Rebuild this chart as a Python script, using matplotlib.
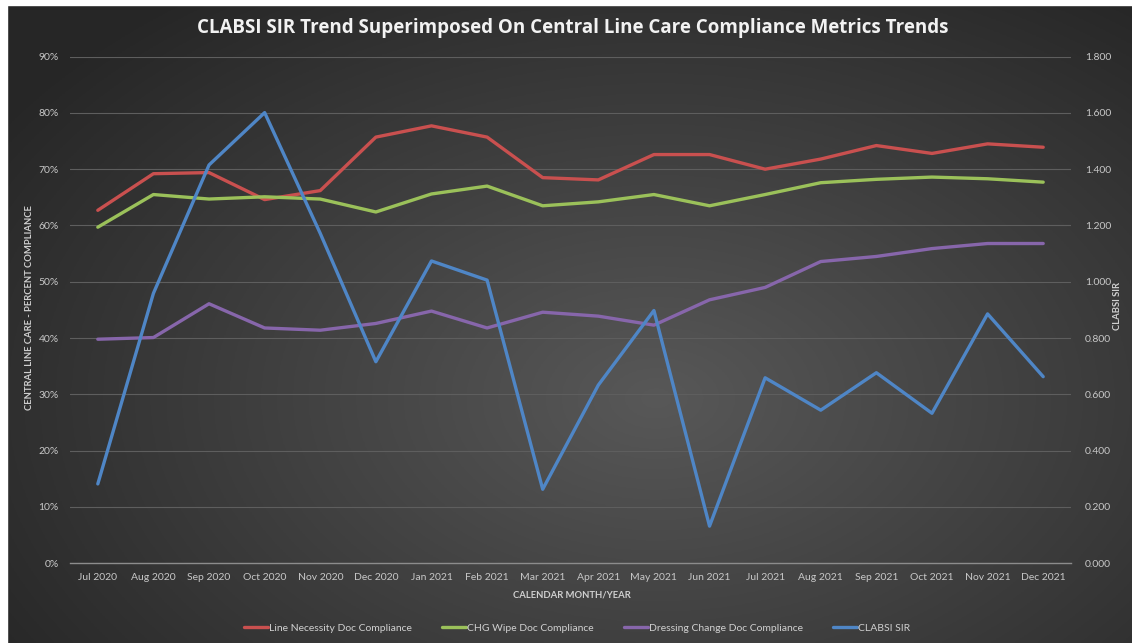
import numpy as np
import matplotlib
matplotlib.use("Agg")
import matplotlib.pyplot as plt
from matplotlib.patches import Rectangle

# Data
months = ["Jul 2020", "Aug 2020", "Sep 2020", "Oct 2020", "Nov 2020", "Dec 2020",
          "Jan 2021", "Feb 2021", "Mar 2021", "Apr 2021", "May 2021", "Jun 2021",
          "Jul 2021", "Aug 2021", "Sep 2021", "Oct 2021", "Nov 2021", "Dec 2021"]
line_necessity = [62.7, 69.2, 69.4, 64.6, 66.2, 75.7, 77.7, 75.7, 68.5, 68.1,
                  72.6, 72.6, 70.0, 71.8, 74.2, 72.8, 74.5, 73.9]
chg_wipe = [59.7, 65.5, 64.7, 65.1, 64.7, 62.4, 65.6, 67.0, 63.5, 64.2,
            65.5, 63.5, 65.5, 67.6, 68.2, 68.6, 68.3, 67.7]
dressing_change = [39.8, 40.1, 46.1, 41.8, 41.4, 42.6, 44.8, 41.8, 44.6, 43.9,
                   42.3, 46.8, 49.0, 53.6, 54.5, 55.9, 56.8, 56.8]
clabsi_sir = [0.282, 0.959, 1.415, 1.601, 1.172, 0.716, 1.074, 1.006, 0.263, 0.633,
              0.898, 0.132, 0.659, 0.544, 0.677, 0.533, 0.886, 0.663]
pct_ticks = [0, 10, 20, 30, 40, 50, 60, 70, 80, 90]
sir_ticks = [0.0, 0.2, 0.4, 0.6, 0.8, 1.0, 1.2, 1.4, 1.6, 1.8]

plt.rcParams['font.family'] = ['Lato', 'DejaVu Sans']

fig = plt.figure(figsize=(11.32, 6.43), dpi=100)

# dark radial gradient background
bg = fig.add_axes([0, 0, 1, 1])
gx, gy = np.meshgrid(np.linspace(0, 1, 400), np.linspace(0, 1, 240))
d = np.sqrt(((gx - 0.58) / 0.75) ** 2 + ((gy - 0.62) / 0.85) ** 2)
lum = np.clip(0.345 - 0.21 * d, 0.15, 0.35)
bg.imshow(np.dstack([lum, lum, lum]), extent=[0, 1, 0, 1], aspect='auto', origin='upper')
bg.set_xlim(0, 1)
bg.set_ylim(0, 1)
bg.axis('off')
# thin white border left / top like the screenshot
fig.patches.append(Rectangle((0, 0), 7 / 1132, 1, transform=fig.transFigure, color='white', zorder=10))
fig.patches.append(Rectangle((0, 1 - 5 / 643), 1, 5 / 643, transform=fig.transFigure, color='white', zorder=10))

ax = fig.add_axes([70 / 1132, 79.7 / 643, 1001 / 1132, 506.7 / 643])
ax.set_facecolor('none')
x = np.arange(len(months))

ax.plot(x, line_necessity, color='#c9504f', lw=2.4, label='Line Necessity Doc Compliance', solid_capstyle='round')
ax.plot(x, chg_wipe, color='#9bc15a', lw=2.4, label='CHG Wipe Doc Compliance', solid_capstyle='round')
ax.plot(x, dressing_change, color='#8766ab', lw=2.4, label='Dressing Change Doc Compliance', solid_capstyle='round')

ax.set_xlim(-0.5, len(months) - 0.5)
ax.set_ylim(0, 90)
ax.set_yticks(pct_ticks)
ax.set_yticklabels([f"{t}%" for t in pct_ticks])
ax.set_xticks(x)
ax.set_xticklabels(months)
ax.grid(axis='y', color='#5e5e5e', lw=0.8)
ax.set_axisbelow(True)
for s in ['top', 'right', 'left']:
    ax.spines[s].set_visible(False)
ax.spines['bottom'].set_color('#8c8c8c')
ax.spines['bottom'].set_linewidth(1.0)
ax.tick_params(axis='both', length=0, colors='#c8c8c8', labelsize=7.5)
ax.tick_params(axis='y', pad=8)
ax.tick_params(axis='x', pad=7)

ax2 = ax.twinx()
ax2.plot(x, clabsi_sir, color='#4f86c6', lw=2.4, label='CLABSI SIR', solid_capstyle='round')
ax2.set_ylim(0, 1.8)
ax2.set_yticks(sir_ticks)
ax2.set_yticklabels([f"{t:.3f}" for t in sir_ticks])
for s in ax2.spines.values():
    s.set_visible(False)
ax2.tick_params(axis='y', length=0, colors='#c8c8c8', labelsize=7.5, pad=10)

fig.text(0.506, 0.956, "CLABSI SIR Trend Superimposed On Central Line Care Compliance Metrics Trends",
         ha='center', va='center', color='#f2f2f2', fontsize=13.5, fontweight='bold', family=['Open Sans', 'DejaVu Sans'])
fig.text(30 / 1132, 1 - 308 / 643, "CENTRAL LINE CARE - PERCENT COMPLIANCE", rotation=90,
         ha='center', va='center', color='#d0d0d0', fontsize=6.8, fontweight='bold')
fig.text(1118 / 1132, 1 - 306 / 643, "CLABSI SIR", rotation=90,
         ha='center', va='center', color='#d0d0d0', fontsize=6.8, fontweight='bold')
fig.text(572 / 1132, 1 - 595 / 643, "CALENDAR MONTH/YEAR",
         ha='center', va='center', color='#d0d0d0', fontsize=6.8, fontweight='bold')

h1, l1 = ax.get_legend_handles_labels()
h2, l2 = ax2.get_legend_handles_labels()
leg = fig.legend(h1 + h2, l1 + l2, loc='center', bbox_to_anchor=(577 / 1132, 1 - 628 / 643),
                 ncol=4, frameon=False, fontsize=7.5, handlelength=2.3, handletextpad=0.1,
                 columnspacing=2.9)
for t in leg.get_texts():
    t.set_color('#d0d0d0')

fig.savefig("out.png", dpi=100)
